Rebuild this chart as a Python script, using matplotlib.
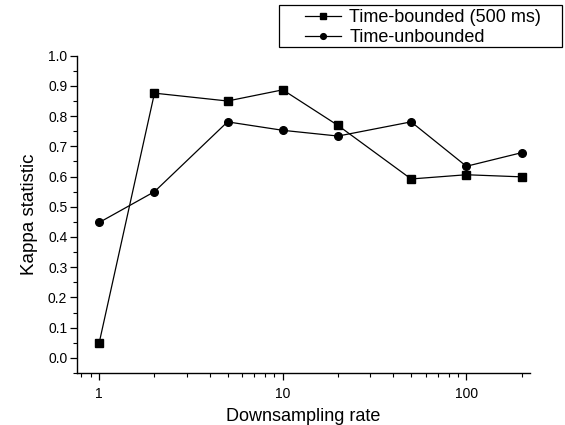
import matplotlib
matplotlib.use("Agg")
import matplotlib.pyplot as plt
from matplotlib.patches import Rectangle
from matplotlib.ticker import MultipleLocator, LogLocator, FixedLocator, FixedFormatter, NullFormatter

plt.rcParams['font.family'] = ['Liberation Sans', 'DejaVu Sans']

rates = [1, 2, 5, 10, 20, 50, 100, 200]
bounded = [0.05, 0.876, 0.850, 0.887, 0.769, 0.592, 0.606, 0.599]
unbounded = [0.448, 0.550, 0.781, 0.753, 0.734, 0.781, 0.634, 0.679]
xtick_vals = [1, 10, 100]
xtick_labels = ["1", "10", "100"]
ytick_vals = [0.0, 0.1, 0.2, 0.3, 0.4, 0.5, 0.6, 0.7, 0.8, 0.9, 1.0]

W, H = 565, 425
fig = plt.figure(figsize=(5.65, 4.25), dpi=100)
ax = fig.add_axes([0.1363, 0.1224, 0.938 - 0.1363, 0.869 - 0.1224])

ax.plot(rates, bounded, color='black', lw=0.9, marker='s', ms=5.8,
        label='Time-bounded (500 ms)')
ax.plot(rates, unbounded, color='black', lw=0.9, marker='o', ms=5.5,
        label='Time-unbounded')

ax.set_xscale('log')
ax.set_xlim(0.757, 222)
ax.set_ylim(-0.05, 1.0)

ax.xaxis.set_major_locator(FixedLocator(xtick_vals))
ax.xaxis.set_major_formatter(FixedFormatter(xtick_labels))
ax.xaxis.set_minor_locator(LogLocator(base=10, subs=range(2, 10)))
ax.xaxis.set_minor_formatter(NullFormatter())

ax.yaxis.set_major_locator(FixedLocator(ytick_vals))
ax.set_yticklabels([f"{v:.1f}" for v in ytick_vals])
ax.yaxis.set_minor_locator(MultipleLocator(0.05))

ax.spines['top'].set_visible(False)
ax.spines['right'].set_visible(False)
for s in ['left', 'bottom']:
    ax.spines[s].set_linewidth(1.0)

ax.tick_params(which='major', direction='out', length=5, width=0.9, labelsize=10, pad=2)
ax.tick_params(which='minor', direction='out', length=2.8, width=0.8)
ax.tick_params(axis='x', which='major', pad=5)

ax.set_xlabel('Downsampling rate', fontsize=13, labelpad=5)
ax.set_ylabel('Kappa statistic', fontsize=13.5, labelpad=7)

# legend frame (reference: box x 279-562, y 5-47 px)
fig.patches.append(Rectangle((279 / W, 1 - 47 / H), (562 - 279) / W, 42 / H,
                             transform=fig.transFigure, fill=False,
                             edgecolor='black', linewidth=0.9))
leg = fig.legend(loc='center left', bbox_to_anchor=(296 / W, 1 - 27.5 / H),
                 fontsize=13, frameon=False,
                 handlelength=2.0, handletextpad=0.45, borderpad=0.0,
                 labelspacing=0.15, markerscale=0.75)

fig.savefig('out.png', dpi=100)
